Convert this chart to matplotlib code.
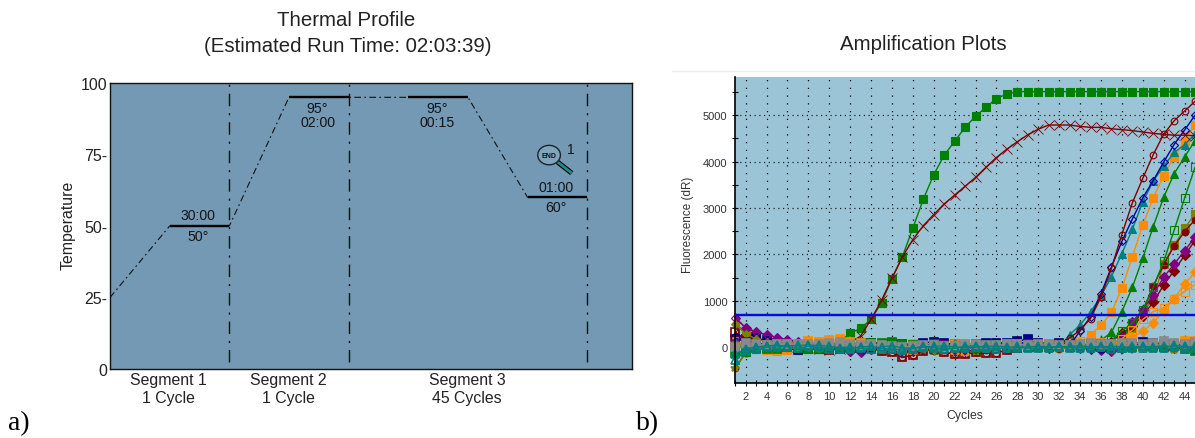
import numpy as np
from matplotlib import pyplot as plt
from matplotlib.patches import Ellipse

plt.rcParams['font.family'] = ['Liberation Sans', 'DejaVu Sans']

W, H = 1195, 439

# 温度曲线
seg_x = [0, 1, 2, 3, 4, 5, 6, 7, 8]
seg_t = [25, 50, 50, 95, 95, 95, 95, 60, 60]
holds = [(1, 2, 50), (3, 4, 95), (5, 6, 95), (7, 8, 60)]
dividers = [2, 4, 8]
temp_ticks = [0, 25, 50, 75, 100]
temp_labels = ['0', '25-', '50-', '75-', '100']
seg_names = [(1, 'Segment 1', '1 Cycle'), (3, 'Segment 2', '1 Cycle'), (6, 'Segment 3', '45 Cycles')]

# 扩增曲线，cycle 1..45
cycles = list(range(1, 46))
flat_navy = [180, 170, 190, 130, 60, -30, -60, 30, 50, 70, 60, 40, 90, 100, 80, 100, 60, 50, 90, 120, 90, 60, 50, 70, 90, 100, 90, 130, 170, 100, 70, 90, 80, 60, 40, 50, 30, 60, 80, 110, 100, 80, 60, 70, 90]
flat_purple = [640, 420, 330, 270, 210, 160, 120, 90, 60, 30, 0, -90, -110, -40, -20, 0, -70, -60, -20, 30, 60, 40, 20, 10, 30, 40, 20, 50, 30, 60, 40, 30, 20, -10, -30, -50, -90, -30, 10, 30, 20, -20, -40, -10, 10]
flat_orange = [120, 60, 30, -50, -70, -60, 40, 130, 120, 150, 170, 110, 100, 60, 30, 10, -70, 80, 20, -30, 10, 70, 60, 30, -20, 10, 50, 60, 30, 40, 80, 40, 20, 60, 80, 100, 70, 40, 60, 50, 70, 60, 80, 140, 130]
flat_star = [-450, -120, -40, 20, 60, 40, 20, -10, -30, -20, 10, 40, -20, -50, -70, -40, -30, -20, -60, -80, -50, -30, -60, -100, -60, -30, -10, 10, 20, 0, -20, -30, -10, -20, 10, -10, -30, -20, 0, -30, -40, -20, -50, -60, -30]
flat_teal = [-280, -70, -30, 0, 10, 30, 40, 50, 40, 20, -10, 10, -20, -30, 10, 30, -10, -20, 0, 20, 30, 10, -10, 0, 30, 20, 10, -10, 10, 20, 10, 0, 20, 30, 10, 0, 20, 10, -10, 20, 10, 30, 10, -10, 20]
flat_teal2 = [-150, -30, 10, 30, 50, 10, -20, 20, 0, -30, -40, -30, 10, 20, -30, -40, -60, -30, 30, -10, -30, -20, 20, 30, -10, -30, -20, 20, -20, -20, -10, 20, -10, -10, -20, 30, -30, -20, 20, -10, -20, -10, 40, 20, -20]
flat_grey = [0, 90, 60, 50, 70, 60, 80, 60, 70, 90, 110, 60, 50, 70, 40, 30, 10, 30, 50, 40, 20, 30, 70, 60, 50, 40, 60, 70, 50, 80, 60, 50, 40, 60, 90, 70, 60, 90, 100, 80, 90, 130, 90, 80, 110]
flat_maroon = [320, 170, 100, 30, 10, 0, 20, -10, -30, -50, -40, 20, 30, -20, -70, -110, -220, -170, -80, -30, -110, -140, -150, -110, -130, -120, -60, -20, 10, 30, 10, 60, 70, 40, 20, 0, -20, 30, 50, 40, 20, 10, 30, 40, 20]
flat_olive = [500, 290, 180, 120, 90, 70, 60, 50, 60, 40, 20, 50, 20, 10, 40, 50, 20, 30, 50, -60, 10, 90, 40, 60, 70, 20, 40, 50, 30, 10, 40, 60, 50, 30, 20, 50, 70, 40, 60, 50, 30, 40, 20, 10, 50]
flat_green = [-120, -110, -20, -40, -30, 0, -20, -30, -40, -10, 30, 20, 10, 100, 90, 110, 80, 50, 30, 60, 20, 30, 10, -10, 20, 40, 60, 30, 20, 10, 30, 20, 10, 50, 70, 60, 10, -20, 10, 20, 30, 60, 40, -30, -70]
flat_blue = [200, 120, 40, 60, 20, 10, -20, 30, 40, 10, 30, -30, -40, 0, 20, 60, 20, -10, 30, 60, 50, 10, -20, 20, 60, 70, 50, 80, 110, 60, 30, 60, 40, 20, 30, -10, 10, 20, 40, 70, 60, 40, 20, 50, 60]
flat_amber = [80, 40, 60, 10, -40, -30, 0, 70, 80, 40, 90, 140, 60, 20, -20, 40, -30, -50, 10, 30, -20, -60, -70, -20, 10, 20, 40, 30, 70, 40, 50, 30, 90, 140, 110, 60, 40, 70, 30, 10, 50, 70, 100, 60, 30]
flat_plum = [60, 20, 80, 40, 50, 20, -10, 20, -20, 10, 30, -70, -90, 10, 40, 20, -100, -80, -40, 0, 40, -70, -90, -50, -20, 30, 20, 40, 60, 20, -10, 20, 50, 10, -20, 40, 60, -60, -30, 10, 30, 0, -20, 30, 60]
flat_sea = [40, 10, 30, 70, 30, 50, 20, 30, 10, 50, 40, -20, 30, 40, 50, 10, -20, 0, 10, 40, -10, 40, 30, 40, 10, 50, 30, 10, 40, 30, 20, 30, 30, 10, 50, 20, 40, 30, 30, 50, 40, 20, 30, 40, 40]

sq_green = flat_green[:10] + [130, 300, 410, 600, 960, 1480, 1950, 2570, 3190, 3720, 4140, 4440, 4740, 4980, 5170, 5360, 5460] + [5510] * 18
x_red = flat_maroon[:11] + [100, 240, 600, 1010, 1490, 1950, 2320, 2620, 2860, 3090, 3280, 3470, 3660, 3880, 4090, 4270, 4430, 4580, 4700, 4790, 4790, 4790, 4760, 4740, 4740, 4710, 4690, 4670, 4640, 4610, 4590, 4570, 4570, 4560]
o_red = flat_maroon[:32] + [200, 370, 620, 1080, 1700, 2430, 3110, 3640, 4150, 4590, 4880, 5090, 5300]
d_blue = flat_blue[:33] + [350, 650, 1150, 1730, 2280, 2760, 3220, 3590, 3990, 4370, 4680, 5000]
t_teal = flat_teal[:32] + [270, 480, 760, 1100, 1520, 2020, 2540, 3130, 3580, 3900, 4200, 4360, 4600]
sq_orange = flat_orange[:34] + [270, 470, 750, 1270, 1950, 2630, 3220, 3700, 4100, 4450, 4800]
t_green = flat_green[:35] + [150, 320, 770, 1290, 1920, 2600, 3230, 3740, 4100, 4450]
os_green = flat_navy[:36] + [150, 350, 520, 800, 1290, 1850, 2520, 3210, 3880]
c_red1 = flat_plum[:36] + [120, 300, 450, 680, 970, 1340, 1650, 1980, 2300]
c_red2 = flat_star[:37] + [200, 480, 780, 1320, 1780, 2180, 2490, 2750]
d_purple = flat_purple[:37] + [200, 550, 800, 1130, 1510, 1790, 2080, 2370]
s_olive = flat_olive[:37] + [180, 420, 760, 1040, 1800, 2200, 2560, 2880]
os_orange = flat_amber[:37] + [180, 370, 600, 770, 840, 1050, 1200, 1350]
d_orange = flat_grey[:36] + [60, 100, 220, 340, 530, 780, 1050, 1360, 1620]
threshold = 690

flat_styles = [
    (flat_navy, '#000080', 's', True),
    (flat_purple, '#800080', 'D', False),
    (flat_orange, '#FF8C00', 's', True),
    (flat_star, '#808000', '*', True),
    (flat_maroon, '#800000', 's', False),
    (flat_olive, '#808000', 'D', True),
    (flat_blue, '#0000A0', 'o', False),
    (flat_amber, '#FF8C00', '^', False),
    (flat_plum, '#800080', 'v', True),
    (flat_green, '#008000', 's', True),
    (flat_sea, '#2E8B57', 'o', False),
    (flat_grey, '#8A8A8A', 's', True),
    (flat_teal2, '#008080', '^', False),
    (flat_teal, '#008080', '^', False),
]
amp_styles = [
    (s_olive, '#808000', 's', True),
    (c_red2, '#800000', 'o', True),
    (c_red1, '#800000', 'D', True),
    (d_purple, '#800080', 'D', True),
    (os_green, '#008000', 's', False),
    (os_orange, '#FF8C00', 's', False),
    (d_orange, '#FF8C00', 'D', True),
    (t_green, '#008000', '^', True),
    (sq_orange, '#FF8C00', 's', True),
    (t_teal, '#008080', '^', True),
    (d_blue, '#0000A0', 'D', False),
    (o_red, '#800000', 'o', False),
    (sq_green, '#008000', 's', True),
    (x_red, '#800000', 'x', False),
]


def px_axes(fig, left, top, right, bottom):
    return fig.add_axes([left / W, 1 - bottom / H, (right - left) / W, (bottom - top) / H])


def fig_text(fig, x, y, s, **kw):
    kw.setdefault('ha', 'center')
    kw.setdefault('va', 'center')
    fig.text(x / W, 1 - y / H, s, **kw)


fig = plt.figure(figsize=(W / 100, H / 100), dpi=100, facecolor='white')

# a) Thermal Profile
ax = px_axes(fig, 110, 84, 632, 370)
ax.set_facecolor('#7399B4')
ax.set_xlim(0, 8.75)
ax.set_ylim(0, 100)
ax.plot(seg_x, seg_t, color='#111111', lw=0.8, ls=(0, (6, 3, 1.5, 3)))
for a, b, t in holds:
    ax.plot([a, b], [t, t], color='black', lw=1.7, solid_capstyle='butt')
for d in dividers:
    ax.plot([d, d], [2.5, 100], color='#111111', lw=1.0, ls=(0, (9, 5, 1.5, 5)))
ax.set_xticks([])
ax.set_yticks(temp_ticks)
ax.set_yticklabels(temp_labels, fontsize=11.5, color='#222222')
ax.tick_params(axis='y', length=0, pad=2)
for s in ax.spines.values():
    s.set_linewidth(1.0)
    s.set_color('#111111')

lab = dict(ha='center', va='center', fontsize=10.2, color='#151515')
ax.text(1.48, 53.8, '30:00', **lab)
ax.text(1.48, 46.4, '50°', **lab)
ax.text(3.48, 91.4, '95°', **lab)
ax.text(3.48, 86.3, '02:00', **lab)
ax.text(5.48, 91.4, '95°', **lab)
ax.text(5.48, 86.3, '00:15', **lab)
ax.text(7.47, 63.7, '01:00', **lab)
ax.text(7.47, 56.6, '60°', **lab)

# END 放大镜图标
ax.plot([7.50, 7.74], [72.4, 68.5], color='black', lw=3.6, solid_capstyle='butt')
ax.plot([7.50, 7.74], [72.4, 68.5], color='#1E8C8C', lw=2.0, solid_capstyle='butt')
ax.add_patch(Ellipse((7.36, 74.8), 0.38, 6.8, facecolor='#7FA5BE', edgecolor='#222222', lw=1.0, zorder=3))
ax.text(7.36, 74.8, 'END', ha='center', va='center', fontsize=5, fontweight='bold', color='#111111', zorder=4)
ax.text(7.72, 76.8, '1', ha='center', va='center', fontsize=10, color='#151515')

for x, name, cyc in seg_names:
    fig_text(fig, 110 + x * 59.7 - 1, 381, name, fontsize=11.4, color='#222222')
    fig_text(fig, 110 + x * 59.7 - 1, 399, cyc, fontsize=11.4, color='#222222')

fig_text(fig, 68, 225, 'Temperature', rotation=90, fontsize=11.4, color='#222222')
fig_text(fig, 346, 20.5, 'Thermal Profile', fontsize=14.7, color='#222222')
fig_text(fig, 347.5, 46.5, '(Estimated Run Time: 02:03:39)', fontsize=14.7, color='#222222')

# b) Amplification Plots
ax2 = px_axes(fig, 735.2, 78, 1195, 384)
ax2.set_facecolor('#9BC5D6')
ax2.set_xlim(1, 44.75)
ax2.set_ylim(-770, 5825)
for vals, col, mk, filled in amp_styles:
    ms = 5.4
    mew = 0.8
    if mk == '^':
        ms = 6.2
    if mk == 'o':
        ms = 4.8
    if mk == 'D':
        ms = 4.8 if filled else 3.8
    if mk == 'x':
        ms = 7.5
        mew = 0.6
    ax2.plot(cycles, vals, color=col, lw=1.0, marker=mk, ms=ms,
             mfc=col if filled else 'none', mec=col, mew=mew, clip_on=True)
for vals, col, mk, filled in flat_styles:
    ax2.plot(cycles, vals, color=col, lw=0.9, marker=mk, ms=4.4 if mk == 'D' else 6.2,
             mfc=col if filled else 'none', mec=col, mew=1.2 if mk != 'D' else 0.8, clip_on=False)
ax2.axhline(threshold, color='#0808E0', lw=1.7, zorder=6)

ax2.set_xticks(cycles)
ax2.set_xticklabels([str(c) if c % 2 == 0 else '' for c in cycles], fontsize=8, color='#333333')
ax2.set_yticks(np.arange(-500, 5501, 500))
ax2.set_yticklabels([str(v) if v % 1000 == 0 and v >= 0 else '' for v in np.arange(-500, 5501, 500)],
                    fontsize=8, color='#333333')
ax2.tick_params(axis='both', direction='inout', length=5, width=0.8, color='black', pad=3)
for v in range(2, 45, 2):
    ax2.axvline(v, color='black', lw=0.9, ls=(0, (1, 5.2)), zorder=0.5)
for v in range(0, 5001, 1000):
    ax2.axhline(v, color='#222222', lw=0.9, ls=(0, (1, 2.8)), zorder=0.5)
ax2.spines['top'].set_visible(False)
ax2.spines['right'].set_visible(False)
ax2.spines['left'].set_linewidth(1.2)
ax2.spines['bottom'].set_linewidth(1.2)

# 顶部的浅灰线
fig.add_artist(plt.Line2D([672 / W, 1], [1 - 72 / H, 1 - 72 / H], color='#EEEEEE', lw=1))

fig_text(fig, 688, 225, 'Fluorescence (dR)', rotation=90, fontsize=8.4, color='#333333')
fig_text(fig, 964.6, 416, 'Cycles', fontsize=8.8, color='#333333')
fig_text(fig, 923, 44, 'Amplification Plots', fontsize=14.7, color='#222222')

serif = ['Liberation Serif', 'DejaVu Serif']
fig_text(fig, 8, 424, 'a)', ha='left', fontsize=20, family=serif, color='black')
fig_text(fig, 636, 424, 'b)', ha='left', fontsize=20, family=serif, color='black')

fig.savefig('out.png', dpi=100)
